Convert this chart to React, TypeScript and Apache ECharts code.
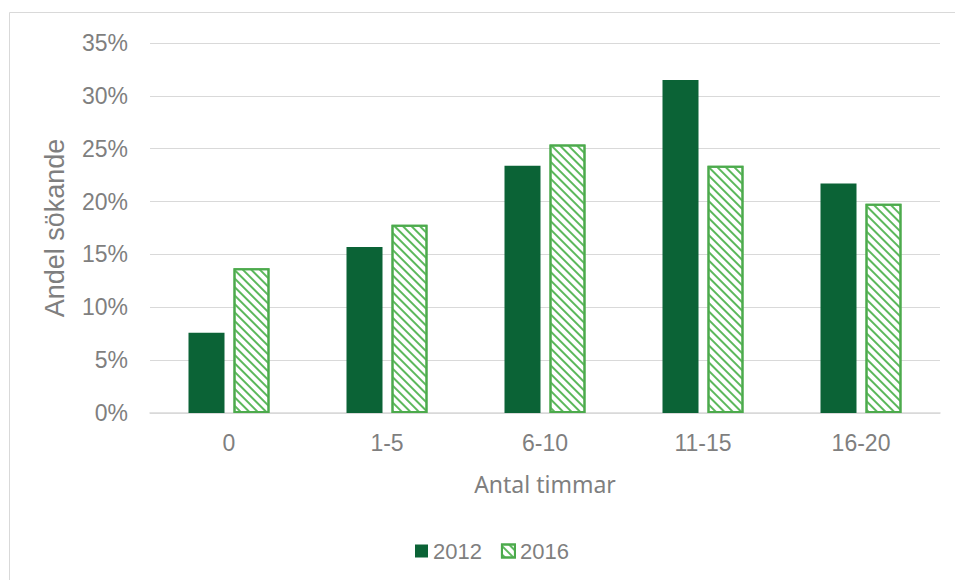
import React, { useEffect, useRef } from "react";
import * as echarts from "echarts";

const categories = ["0", "1-5", "6-10", "11-15", "16-20"];
const values2012 = [7.6, 15.7, 23.4, 31.5, 21.7];
const values2016 = [13.7, 17.8, 25.4, 23.4, 19.8];
const seriesNames = ["2012", "2016"];

export default function App() {
  const ref = useRef<HTMLDivElement>(null);
  useEffect(() => {
    const chart = echarts.init(ref.current!, null, { renderer: "svg" });
    const gray = "#7f7f7f";
    const font = "Liberation Sans";
    const hatch = "#4caa4c";
    chart.setOption({
      animation: false,
      textStyle: { fontFamily: font },
      graphic: [
        {
          type: "rect",
          shape: { x: 9.5, y: 12.5, width: 1200, height: 1200 },
          style: { fill: "none", stroke: "#d9d9d9", lineWidth: 1 },
          silent: true,
        },
      ],
      grid: { left: 150, right: 15, top: 43, bottom: 167, containLabel: false },
      legend: {
        data: seriesNames,
        top: 540,
        left: 415,
        padding: 0,
        itemWidth: 13,
        itemHeight: 13,
        itemGap: 19,
        icon: "rect",
        textStyle: { color: gray, fontSize: 22, fontFamily: font },
      },
      xAxis: {
        type: "category",
        data: categories,
        name: "Antal timmar",
        nameLocation: "middle",
        nameGap: 59,
        nameTextStyle: { color: gray, fontSize: 23, fontFamily: "Noto Sans" },
        axisLine: { lineStyle: { color: "#d9d9d9", width: 1.5 } },
        axisTick: { show: false },
        axisLabel: { color: gray, fontSize: 23, margin: 18, fontFamily: font },
      },
      yAxis: {
        type: "value",
        min: 0,
        max: 35,
        interval: 5,
        name: "Andel sökande",
        nameLocation: "middle",
        nameGap: 82,
        nameTextStyle: { color: gray, fontSize: 27, fontFamily: font },
        axisLine: { show: false },
        axisTick: { show: false },
        splitLine: { lineStyle: { color: "#d9d9d9", width: 1 } },
        axisLabel: {
          color: gray,
          fontSize: 23,
          margin: 22,
          fontFamily: font,
          formatter: (v: number) => v + "%",
        },
      },
      series: [
        {
          name: seriesNames[0],
          type: "bar",
          data: values2012,
          barWidth: 36,
          barGap: "25%",
          itemStyle: { color: "#0b6336" },
        },
        {
          name: seriesNames[1],
          type: "bar",
          data: values2016,
          barWidth: 36,
          itemStyle: {
            color: "#ffffff",
            borderColor: hatch,
            borderWidth: 2,
            decal: {
              symbol: "rect",
              symbolSize: 1,
              color: "#5cb85c",
              backgroundColor: "#ffffff",
              dashArrayX: [1, 0],
              dashArrayY: [1.6, 3.4],
              rotation: Math.PI / 4,
            },
          },
        },
      ],
    });
    return () => chart.dispose();
  }, []);
  return (
    <div
      ref={ref}
      style={{ position: "absolute", left: 0, top: 0, width: 955, height: 580 }}
    />
  );
}
